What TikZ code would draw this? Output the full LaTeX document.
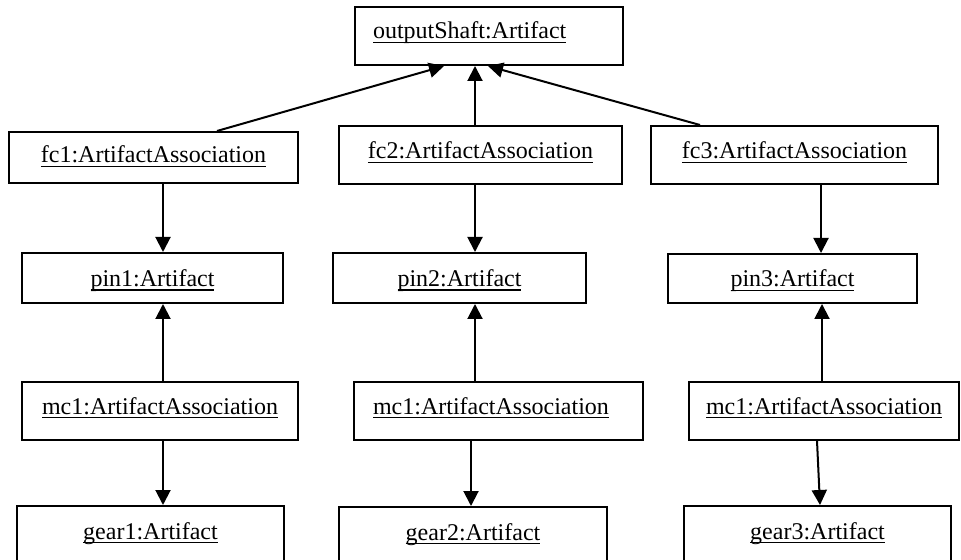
\documentclass[tikz,border=0pt]{standalone}
\usepackage{fontspec}
\setmainfont{Liberation Serif}
\usetikzlibrary{arrows.meta}

% underlined object name
\newcommand{\objname}[1]{\setbox0\hbox{#1}\rlap{\copy0}\rule[-2.1pt]{\wd0}{0.8pt}}

\begin{document}
\begin{tikzpicture}[x=0.5pt,y=-0.5pt]
\clip (0,0) rectangle (961,560);

\begin{scope}[every node/.style={rectangle,draw,line width=1pt,inner sep=0pt,
        font=\fontsize{12}{14}\selectfont,text height=8.5pt,text depth=3.5pt}]
    \node (shaft) at (489,36)    [inner xsep=9pt,text width=116pt,align=left,minimum height=29pt,text depth=5.5pt] {\objname{outputShaft:Artifact}};

    \node (fc1) at (153.5,157.5) [minimum width=144.5pt,minimum height=25.5pt,text depth=3pt] {\objname{fc1:ArtifactAssociation}};
    \node (fc2) at (480.5,155)   [minimum width=141.5pt,minimum height=29pt,text depth=4.5pt] {\objname{fc2:ArtifactAssociation}};
    \node (fc3) at (794.5,155)   [minimum width=143.5pt,minimum height=29pt,text depth=4.5pt] {\objname{fc3:ArtifactAssociation}};

    \node (pin1) at (152.5,278)  [minimum width=130.5pt,minimum height=25pt,text height=12pt] {\objname{pin1:Artifact}};
    \node (pin2) at (459.5,278)  [minimum width=126.5pt,minimum height=25pt,text height=12pt] {\objname{pin2:Artifact}};
    \node (pin3) at (792.5,278.5)[minimum width=124.5pt,minimum height=24.5pt,text height=12pt] {\objname{pin3:Artifact}};

    \node (mc1) at (160,411)     [minimum width=138pt,minimum height=29pt,text depth=5.5pt] {\objname{mc1:ArtifactAssociation}};
    \node (mc2) at (498.5,411)   [inner xsep=9.5pt,text width=125.5pt,align=left,minimum height=29pt,text depth=5.5pt] {\objname{mc1:ArtifactAssociation}};
    \node (mc3) at (824,411)     [minimum width=135pt,minimum height=29pt,text depth=5.5pt] {\objname{mc1:ArtifactAssociation}};

    \node (gear1) at (150.5,535) [minimum width=133.5pt,minimum height=29pt,text depth=4.5pt] {\objname{gear1:Artifact}};
    \node (gear2) at (473,536)   [minimum width=134pt,minimum height=29pt,text depth=4.5pt] {\objname{gear2:Artifact}};
    \node (gear3) at (817.5,535) [minimum width=133.5pt,minimum height=29pt,text depth=4.5pt] {\objname{gear3:Artifact}};
\end{scope}

\begin{scope}[>={Triangle[length=7.5pt,width=7.5pt]},
            every edge/.style={draw=black,line width=1pt}]
    \path [->] (fc1.north -| 217,0) edge (shaft.south -| 444,0);
    \path [->] (fc2.north -| 475,0) edge (shaft.south -| 475,0);
    \path [->] (fc3.north -| 700,0) edge (shaft.south -| 488,0);

    \path [->] (fc1.south -| 163,0) edge (pin1.north -| 163,0);
    \path [->] (fc2.south -| 475,0) edge (pin2.north -| 475,0);
    \path [->] (fc3.south -| 821,0) edge (pin3.north -| 821,0);

    \path [->] (mc1.north -| 163,0) edge (pin1.south -| 163,0);
    \path [->] (mc2.north -| 475,0) edge (pin2.south -| 475,0);
    \path [->] (mc3.north -| 822,0) edge (pin3.south -| 822,0);

    \path [->] (mc1.south -| 163,0) edge (gear1.north -| 163,0);
    \path [->] (mc2.south -| 471,0) edge (gear2.north -| 471,0);
    \path [->] (mc3.south -| 817,0) edge (gear3.north -| 820,0);
\end{scope}
\end{tikzpicture}
\end{document}
